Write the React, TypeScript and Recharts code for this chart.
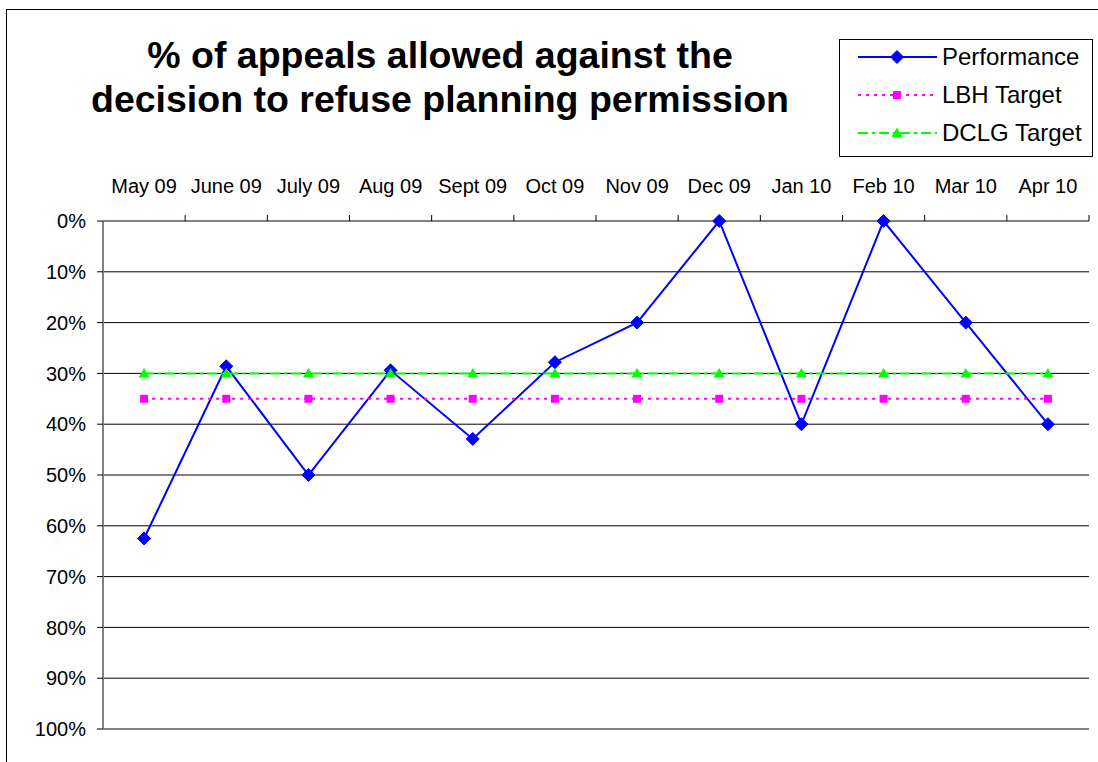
import React from 'react';
import { LineChart, Line, XAxis, YAxis, CartesianGrid, ReferenceLine } from 'recharts';

// values (percent)
const months = ['May 09', 'June 09', 'July 09', 'Aug 09', 'Sept 09', 'Oct 09', 'Nov 09', 'Dec 09', 'Jan 10', 'Feb 10', 'Mar 10', 'Apr 10'];
const performance = [62.5, 28.6, 50, 29.4, 42.9, 27.8, 20, 0, 40, 0, 20, 40];
const lbhTarget = [35, 35, 35, 35, 35, 35, 35, 35, 35, 35, 35, 35];
const dclgTarget = [30, 30, 30, 30, 30, 30, 30, 30, 30, 30, 30, 30];
const yTicks = [0, 10, 20, 30, 40, 50, 60, 70, 80, 90, 100];

const data = months.map((m, i) => ({
  month: m,
  Performance: performance[i],
  'LBH Target': lbhTarget[i],
  'DCLG Target': dclgTarget[i],
}));

const W = 1098;
const H = 762;
const YAXIS_W = 103;
const MARGIN = { top: 171, right: 9, bottom: 33, left: 0 };
const XAXIS_H = 50;
const BAND = (W - MARGIN.left - MARGIN.right - YAXIS_W) / months.length;
const FONT = '"Liberation Sans", Arial, sans-serif';

const BLUE = '#0000FF';
const PINK = '#FF00FF';
const GREEN = '#00FF00';

const Diamond = ({ cx, cy }: any) => {
  if (cx == null || cy == null) return null;
  return <polygon points={`${cx},${cy - 6.5} ${cx + 6.5},${cy} ${cx},${cy + 6.5} ${cx - 6.5},${cy}`} fill={BLUE} stroke={BLUE} />;
};

const Square = ({ cx, cy }: any) => {
  if (cx == null || cy == null) return null;
  return <rect x={cx - 4} y={cy - 4} width={8} height={8} fill={PINK} />;
};

const Triangle = ({ cx, cy }: any) => {
  if (cx == null || cy == null) return null;
  return <polygon points={`${cx},${cy - 5.5} ${cx + 5.5},${cy + 4} ${cx - 5.5},${cy + 4}`} fill={GREEN} />;
};

// category labels on top, tick marks between categories
const MonthTick = ({ x, y, payload }: any) => (
  <g>
    <line x1={x + BAND / 2} y1={y} x2={x + BAND / 2} y2={y - 6} stroke="#000" />
    <text x={x} y={y - 28} textAnchor="middle" fontSize={20} fontFamily={FONT} fill="#000">
      {payload.value}
    </text>
  </g>
);

const legendItems = [
  { name: 'Performance', color: BLUE, dash: undefined, marker: 'diamond' },
  { name: 'LBH Target', color: PINK, dash: '3 5', marker: 'square' },
  { name: 'DCLG Target', color: GREEN, dash: '10 4 3 4', marker: 'triangle' },
];

const LegendBox = () => (
  <svg width={254} height={118} style={{ position: 'absolute', left: 839, top: 39 }}>
    <rect x={0.5} y={0.5} width={253} height={117} fill="#fff" stroke="#000" />
    {legendItems.map((it, i) => {
      const cy = 18 + i * 38;
      return (
        <g key={it.name}>
          <line x1={19} y1={cy} x2={98} y2={cy} stroke={it.color} strokeWidth={2} strokeDasharray={it.dash} />
          {it.marker === 'diamond' && <Diamond cx={58} cy={cy} />}
          {it.marker === 'square' && <Square cx={58} cy={cy} />}
          {it.marker === 'triangle' && <Triangle cx={58} cy={cy} />}
          <text x={103} y={cy + 8} fontSize={24} fontFamily={FONT} fill="#000">{it.name}</text>
        </g>
      );
    })}
  </svg>
);

export default function App() {
  return (
    <div style={{ position: 'absolute', left: 0, top: 0, width: W, height: H, background: '#fff', overflow: 'hidden' }}>
      <div style={{ position: 'absolute', left: 6, top: 9, width: 1100, height: 760, border: '1px solid #000' }} />
      <div
        style={{
          position: 'absolute', left: 40, top: 33, width: 800, textAlign: 'center',
          fontFamily: FONT, fontWeight: 'bold', fontSize: 37.5, lineHeight: '44px', color: '#000',
        }}
      >
        % of appeals allowed against the
        <br />
        decision to refuse planning permission
      </div>
      <LineChart width={W} height={H} data={data} margin={MARGIN} style={{ position: 'absolute', left: 0, top: 0 }}>
        <CartesianGrid vertical={false} stroke="#000" yAxisId="left" />
        <XAxis
          dataKey="month"
          orientation="top"
          height={XAXIS_H}
          padding={{ left: BAND / 2, right: BAND / 2 }}
          axisLine={{ stroke: '#808080', strokeWidth: 2 }}
          tickLine={false}
          tickSize={0}
          tickMargin={0}
          interval={0}
          tick={<MonthTick />}
        />
        <YAxis
          yAxisId="left"
          reversed
          domain={[0, 100]}
          ticks={yTicks}
          interval={0}
          width={YAXIS_W}
          tickFormatter={(v: number) => `${v}%`}
          tick={{ fontSize: 20, fontFamily: FONT, fill: '#000' }}
          tickSize={6}
          tickMargin={11}
          axisLine={{ stroke: '#808080', strokeWidth: 2 }}
          tickLine={{ stroke: '#000' }}
        />
        <YAxis
          yAxisId="right"
          orientation="right"
          domain={[0, 100]}
          width={0}
          tick={false}
          tickLine={false}
          axisLine={{ stroke: '#808080', strokeWidth: 2 }}
        />
        <ReferenceLine yAxisId="left" y={100} stroke="#808080" strokeWidth={2} />
        <Line yAxisId="left" dataKey="Performance" stroke={BLUE} strokeWidth={2} dot={<Diamond />} activeDot={false} isAnimationActive={false} />
        <Line yAxisId="left" dataKey="LBH Target" stroke={PINK} strokeWidth={2} strokeDasharray="3 5" dot={<Square />} activeDot={false} isAnimationActive={false} />
        <Line yAxisId="left" dataKey="DCLG Target" stroke={GREEN} strokeWidth={2} strokeDasharray="10 4 3 4" dot={<Triangle />} activeDot={false} isAnimationActive={false} />
      </LineChart>
      <LegendBox />
    </div>
  );
}
